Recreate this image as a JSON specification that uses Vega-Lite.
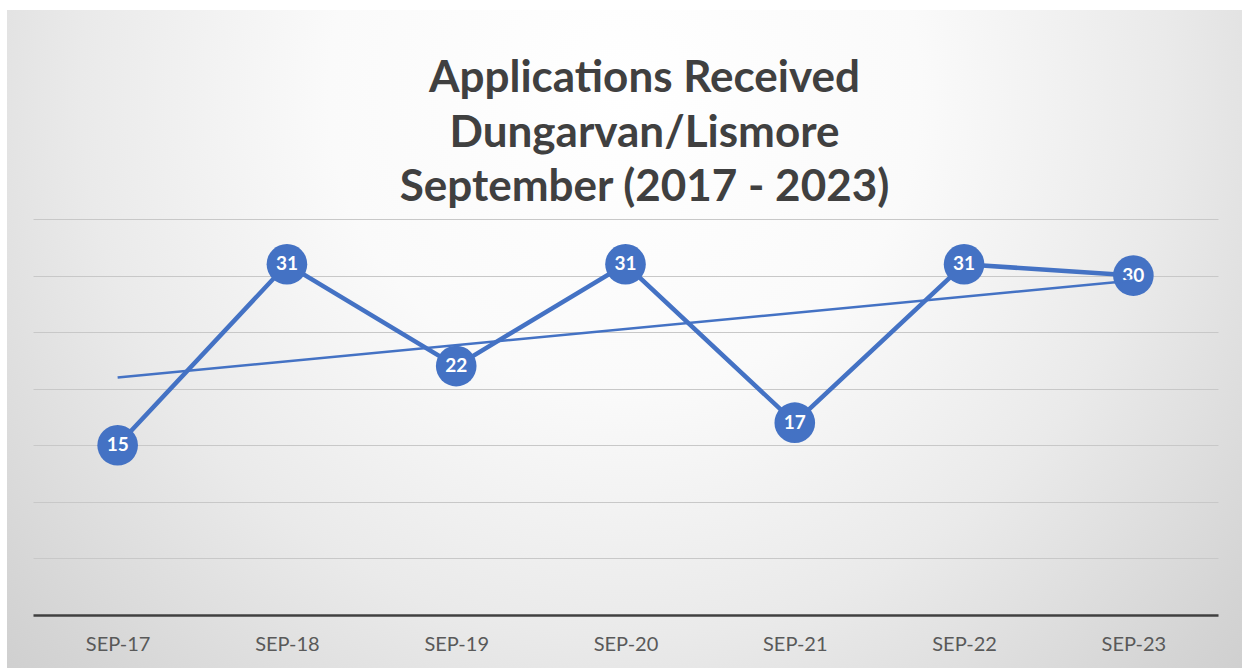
{
  "$schema": "https://vega.github.io/schema/vega-lite/v6.json",
  "width": 1235,
  "height": 658,
  "autosize": {"type": "none"},
  "padding": {"left": 7, "top": 10, "right": 0, "bottom": 0},
  "background": "#ffffff",
  "view": {
    "stroke": null,
    "fill": {
      "gradient": "radial",
      "x1": 0.5, "y1": 0.3, "r1": 0,
      "x2": 0.5, "y2": 0.3, "r2": 0.8,
      "stops": [
        {"offset": 0, "color": "#ffffff"},
        {"offset": 0.3, "color": "#fafafa"},
        {"offset": 0.55, "color": "#eaeaea"},
        {"offset": 0.8, "color": "#d4d4d4"},
        {"offset": 1, "color": "#c4c4c4"}
      ]
    }
  },
  "datasets": {
    "apps": [
      {"month": "SEP-17", "year": 2017, "applications": 15},
      {"month": "SEP-18", "year": 2018, "applications": 31},
      {"month": "SEP-19", "year": 2019, "applications": 22},
      {"month": "SEP-20", "year": 2020, "applications": 31},
      {"month": "SEP-21", "year": 2021, "applications": 17},
      {"month": "SEP-22", "year": 2022, "applications": 31},
      {"month": "SEP-23", "year": 2023, "applications": 30}
    ]
  },
  "title": {
    "text": ["Applications Received", "Dungarvan/Lismore", "September (2017 - 2023)"],
    "frame": "group",
    "anchor": "middle",
    "orient": "top",
    "baseline": "alphabetic",
    "offset": -235,
    "dx": 20,
    "font": "Lato",
    "fontSize": 44,
    "fontWeight": "bold",
    "color": "#404040",
    "lineHeight": 54.5
  },
  "encoding": {
    "x": {
      "field": "month",
      "type": "ordinal",
      "sort": null,
      "scale": {"type": "point", "padding": 0.5, "range": [26, 1211]},
      "axis": {
        "orient": "bottom",
        "offset": -53,
        "title": null,
        "ticks": false,
        "grid": false,
        "labelAngle": 0,
        "labelFont": "Lato",
        "labelFontSize": 20,
        "labelColor": "#595959",
        "labelPadding": 19,
        "domainColor": "#404040",
        "domainWidth": 2.5
      }
    },
    "y": {
      "field": "applications",
      "type": "quantitative",
      "scale": {"domain": [-4.684, 53.474], "nice": false, "zero": false},
      "axis": {
        "values": [0, 5, 10, 15, 20, 25, 30, 35],
        "grid": true,
        "gridColor": "#c8c8c8",
        "gridWidth": 1,
        "domain": false,
        "ticks": false,
        "labels": false,
        "title": null
      }
    }
  },
  "layer": [
    {
      "data": {"name": "apps"},
      "mark": {"type": "line", "color": "#4472C4", "strokeWidth": 4.5}
    },
    {
      "data": {"name": "apps"},
      "mark": {"type": "point", "filled": true, "shape": "circle", "size": 1650, "color": "#4472C4", "opacity": 1}
    },
    {
      "data": {"name": "apps"},
      "mark": {"type": "text", "color": "#ffffff", "font": "Lato", "fontSize": 19, "fontWeight": "bold", "align": "center", "baseline": "middle"},
      "encoding": {"text": {"field": "applications", "type": "quantitative"}}
    },
    {
      "data": {"name": "apps"},
      "transform": [
        {"regression": "applications", "on": "year"},
        {"lookup": "year", "from": {"data": {"name": "apps"}, "key": "year", "fields": ["month"]}}
      ],
      "mark": {"type": "line", "color": "#4472C4", "strokeWidth": 2.5}
    }
  ],
  "config": {"view": {"stroke": null}}
}
